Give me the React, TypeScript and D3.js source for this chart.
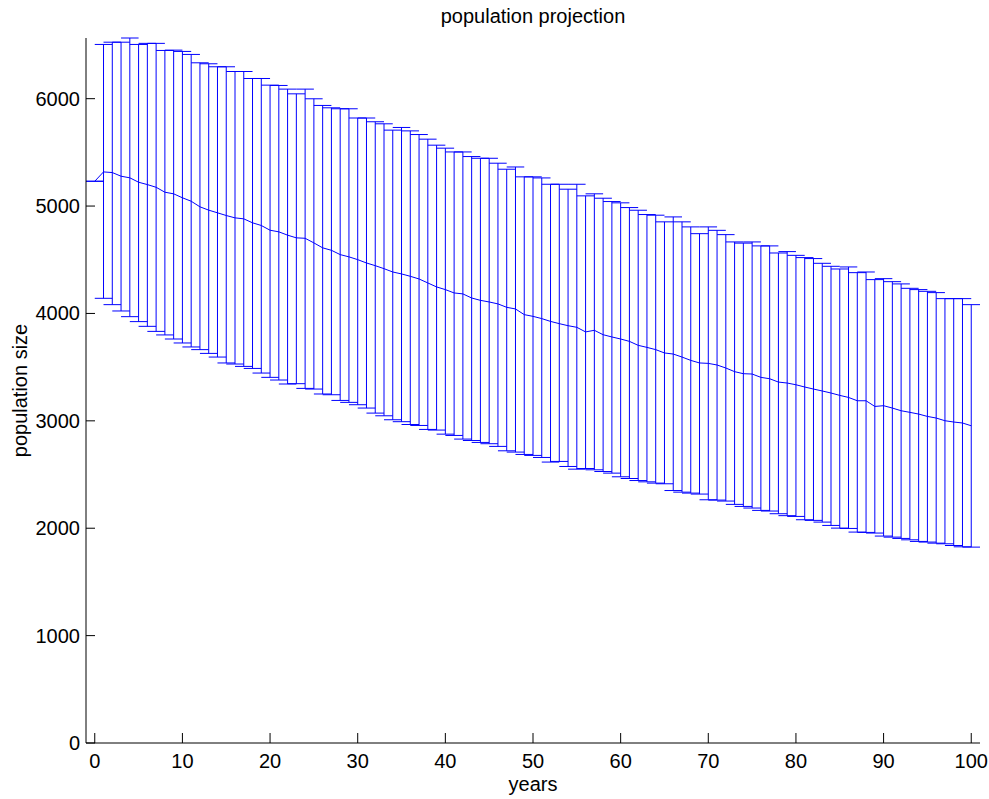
import React from "react";
import * as d3 from "d3";

const years: number[] = Array.from({ length: 101 }, (_, i) => i);

const meanPop: number[] = [
  5231, 5318, 5312, 5278, 5263, 5222, 5200, 5175, 5129, 5114,
  5077, 5045, 4993, 4962, 4937, 4912, 4890, 4881, 4844, 4819,
  4775, 4760, 4729, 4704, 4700, 4657, 4611, 4588, 4548, 4527,
  4501, 4470, 4445, 4417, 4386, 4368, 4346, 4321, 4284, 4247,
  4222, 4191, 4182, 4144, 4122, 4107, 4089, 4057, 4042, 3989,
  3973, 3952, 3926, 3905, 3886, 3871, 3828, 3843, 3802, 3781,
  3762, 3740, 3703, 3684, 3663, 3632, 3622, 3594, 3563, 3539,
  3535, 3520, 3492, 3458, 3439, 3436, 3405, 3392, 3361, 3352,
  3336, 3315, 3296, 3278, 3259, 3237, 3218, 3187, 3187, 3134,
  3141, 3119, 3094, 3079, 3063, 3041, 3026, 3001, 2989, 2980,
  2954,
];

const upperPop: number[] = [
  5231, 6505, 6526, 6526, 6565, 6505, 6515, 6515, 6449, 6452,
  6440, 6412, 6334, 6325, 6297, 6297, 6253, 6253, 6188, 6188,
  6126, 6123, 6089, 6045, 6089, 5999, 5937, 5915, 5906, 5906,
  5820, 5820, 5785, 5766, 5707, 5732, 5700, 5666, 5623, 5567,
  5539, 5504, 5504, 5461, 5445, 5445, 5399, 5343, 5364, 5272,
  5272, 5262, 5203, 5203, 5157, 5203, 5095, 5114, 5073, 5042,
  5030, 4986, 4961, 4921, 4915, 4853, 4899, 4853, 4806, 4743,
  4806, 4774, 4734, 4666, 4655, 4666, 4629, 4629, 4563, 4576,
  4541, 4520, 4511, 4467, 4439, 4414, 4433, 4380, 4386, 4315,
  4324, 4296, 4275, 4234, 4222, 4206, 4194, 4138, 4138, 4138,
  4082,
];

const lowerPop: number[] = [
  5231, 4141, 4082, 4023, 3970, 3924, 3880, 3833, 3800, 3762,
  3725, 3688, 3663, 3628, 3594, 3539, 3529, 3507, 3488, 3445,
  3405, 3380, 3343, 3346, 3302, 3296, 3250, 3243, 3190, 3172,
  3150, 3119, 3072, 3047, 3010, 2992, 2966, 2957, 2920, 2914,
  2876, 2864, 2830, 2817, 2799, 2787, 2762, 2721, 2709, 2687,
  2678, 2659, 2616, 2622, 2575, 2550, 2556, 2544, 2528, 2513,
  2479, 2463, 2444, 2432, 2420, 2414, 2351, 2336, 2327, 2318,
  2265, 2262, 2253, 2222, 2203, 2188, 2166, 2160, 2135, 2117,
  2110, 2079, 2073, 2057, 2026, 2001, 1998, 1964, 1961, 1955,
  1927, 1917, 1905, 1892, 1877, 1871, 1861, 1855, 1839, 1827,
  1824,
];

const xTicks: number[] = [0, 10, 20, 30, 40, 50, 60, 70, 80, 90, 100];
const yTicks: number[] = [0, 1000, 2000, 3000, 4000, 5000, 6000];

const W = 989;
const H = 799;
const L = 86;
const R = 980;
const T = 38;
const B = 743;
const FONT = "'Liberation Sans', Arial, Helvetica, sans-serif";
const BLUE = "#0000ff";

export default function App() {
  const capHalf = (d3.max(years)! - d3.min(years)!) / 100;
  const x = d3.scaleLinear().domain([-capHalf, 100 + capHalf]).range([L, R]);
  const y = d3.scaleLinear().domain([0, d3.max(upperPop)!]).range([B, T]);

  const line = d3
    .line<number>()
    .x((_, i) => x(years[i]))
    .y((d) => y(d));

  let errPath = "";
  years.forEach((yr, i) => {
    const xc = x(yr);
    const xl = x(yr - capHalf);
    const xr = x(yr + capHalf);
    const yu = y(upperPop[i]);
    const yl = y(lowerPop[i]);
    errPath += `M${xc},${yu}L${xc},${yl}`;
    errPath += `M${xl},${yu}L${xr},${yu}`;
    errPath += `M${xl},${yl}L${xr},${yl}`;
  });

  return (
    <svg
      width={W}
      height={H}
      style={{ position: "absolute", left: 0, top: 0, background: "#fff" }}
    >
      <rect x={0} y={0} width={W} height={H} fill="#fff" />
      <path d={errPath} fill="none" stroke={BLUE} strokeWidth={1} />
      <path d={line(meanPop) || ""} fill="none" stroke={BLUE} strokeWidth={1} />

      {/* axes */}
      <line x1={L} y1={T} x2={L} y2={B} stroke="#000" strokeWidth={1} />
      <line x1={L} y1={B} x2={R} y2={B} stroke="#000" strokeWidth={1} />
      {yTicks.map((t) => (
        <g key={"y" + t}>
          <line x1={L} x2={L + 9} y1={y(t)} y2={y(t)} stroke="#000" strokeWidth={1} />
          <text
            x={L - 6}
            y={y(t)}
            dy="0.35em"
            textAnchor="end"
            fontFamily={FONT}
            fontSize={20}
            fill="#000"
          >
            {t}
          </text>
        </g>
      ))}
      {xTicks.map((t) => (
        <g key={"x" + t}>
          <line x1={x(t)} x2={x(t)} y1={B} y2={B - 10} stroke="#000" strokeWidth={1} />
          <text
            x={x(t)}
            y={768}
            textAnchor="middle"
            fontFamily={FONT}
            fontSize={20}
            fill="#000"
          >
            {t}
          </text>
        </g>
      ))}

      <text
        x={(L + R) / 2}
        y={23}
        textAnchor="middle"
        fontFamily={FONT}
        fontSize={20}
        fill="#000"
      >
        population projection
      </text>
      <text
        x={(L + R) / 2}
        y={791}
        textAnchor="middle"
        fontFamily={FONT}
        fontSize={20}
        fill="#000"
      >
        years
      </text>
      <text
        transform={`translate(27,${(T + B) / 2}) rotate(-90)`}
        textAnchor="middle"
        fontFamily={FONT}
        fontSize={20}
        fill="#000"
      >
        population size
      </text>
    </svg>
  );
}
